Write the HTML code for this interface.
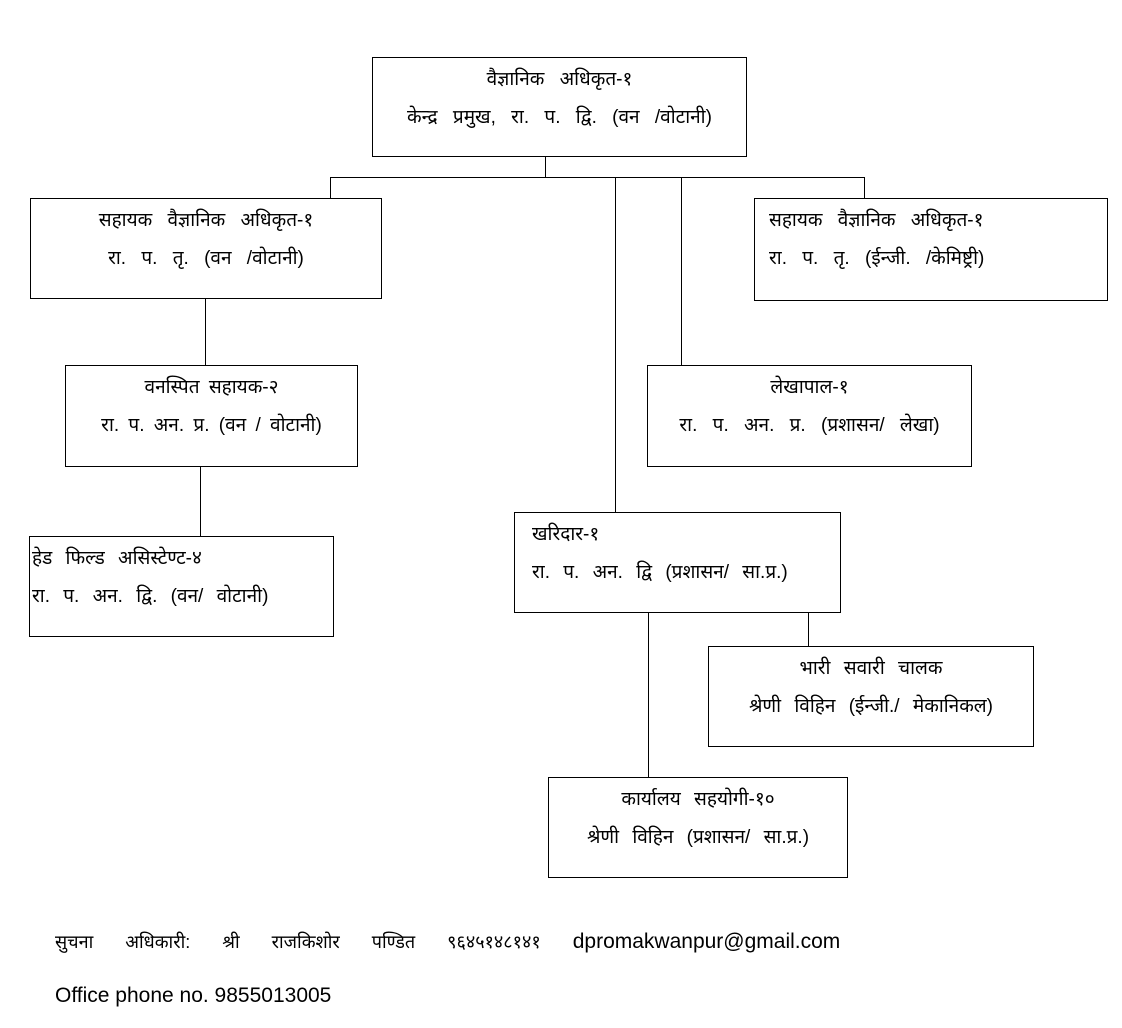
<!DOCTYPE html>
<html><head><meta charset="utf-8"><style>
body{margin:0;width:1122px;height:1028px;background:#fff;position:relative;font-family:"Liberation Sans","Noto Sans Devanagari","Lohit Devanagari","FreeSans",sans-serif;color:#000;overflow:hidden}
.b{position:absolute;border:1.3px solid #000;box-sizing:border-box;font-size:19px;line-height:38px;text-align:center;padding-top:3px;word-spacing:10px;white-space:nowrap}
.l{position:absolute;background:#000}
.t{position:absolute;font-size:18px;left:55px;white-space:nowrap}
</style></head><body>
<div class="b" style="left:372px;top:57px;width:375px;height:100px">वैज्ञानिक अधिकृत-१<br>केन्द्र प्रमुख, रा. प. द्वि. (वन /वोटानी)</div>
<div class="b" style="left:30px;top:198px;width:352px;height:101px">सहायक वैज्ञानिक अधिकृत-१<br>रा. प. तृ. (वन /वोटानी)</div>
<div class="b" style="left:754px;top:198px;width:354px;height:103px;text-align:left;padding-left:14px">सहायक वैज्ञानिक अधिकृत-१<br>रा. प. तृ. (ईन्जी. /केमिष्ट्री)</div>
<div class="b" style="left:65px;top:365px;width:293px;height:102px;word-spacing:4px">वनस्पित सहायक-२<br>रा. प. अन. प्र. (वन / वोटानी)</div>
<div class="b" style="left:647px;top:365px;width:325px;height:102px">लेखापाल-१<br>रा. प. अन. प्र. (प्रशासन/ लेखा)</div>
<div class="b" style="left:29px;top:536px;width:305px;height:101px;text-align:left;padding-left:2px;word-spacing:8px">हेड फिल्ड असिस्टेण्ट-४<br>रा. प. अन. द्वि. (वन/ वोटानी)</div>
<div class="b" style="left:514px;top:512px;width:327px;height:101px;text-align:left;padding-left:17px;word-spacing:8px">खरिदार-१<br>रा. प. अन. द्वि (प्रशासन/ सा.प्र.)</div>
<div class="b" style="left:708px;top:646px;width:326px;height:101px;word-spacing:8px">भारी सवारी चालक<br>श्रेणी विहिन (ईन्जी./ मेकानिकल)</div>
<div class="b" style="left:548px;top:777px;width:300px;height:101px;word-spacing:8px">कार्यालय सहयोगी-१०<br>श्रेणी विहिन (प्रशासन/ सा.प्र.)</div>
<div class="l" style="left:545px;top:156px;width:1.3px;height:22px"></div>
<div class="l" style="left:330px;top:177px;width:535px;height:1.3px"></div>
<div class="l" style="left:330px;top:177px;width:1.3px;height:22px"></div>
<div class="l" style="left:864px;top:177px;width:1.3px;height:22px"></div>
<div class="l" style="left:615px;top:177px;width:1.3px;height:336px"></div>
<div class="l" style="left:681px;top:177px;width:1.3px;height:189px"></div>
<div class="l" style="left:205px;top:298px;width:1.3px;height:68px"></div>
<div class="l" style="left:200px;top:466px;width:1.3px;height:71px"></div>
<div class="l" style="left:648px;top:612px;width:1.3px;height:166px"></div>
<div class="l" style="left:808px;top:612px;width:1.3px;height:35px"></div>
<div class="t" style="top:930px;word-spacing:27px">सुचना अधिकारी: श्री राजकिशोर पण्डित ९६४५१४८१४१ <span style="word-spacing:0;font-size:21px">dpromakwanpur@gmail.com</span></div>
<div class="t" style="top:984px;font-size:21px">Office phone no. 9855013005</div>
</body></html>
